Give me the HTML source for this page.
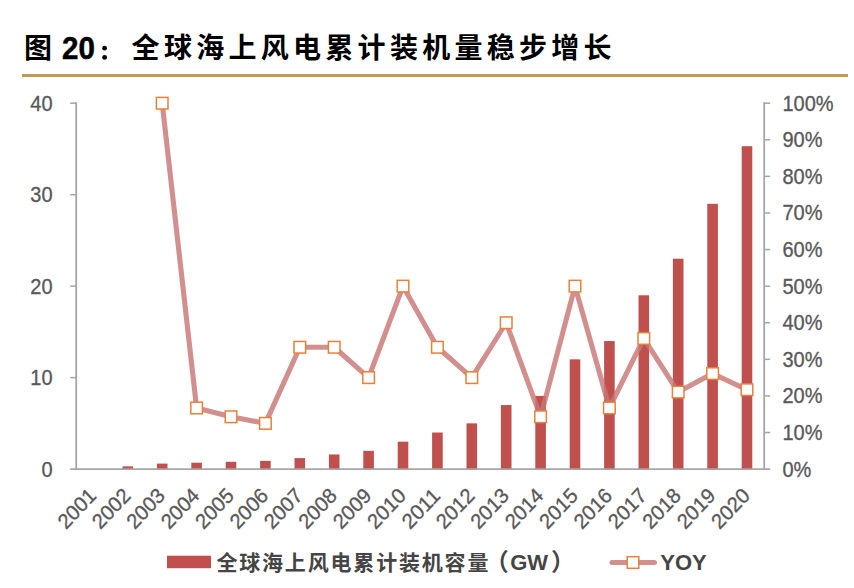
<!DOCTYPE html>
<html lang="zh"><head><meta charset="utf-8"><title>Figure 20</title>
<style>html,body{margin:0;padding:0;background:#fff}body{width:854px;height:588px;overflow:hidden;font-family:"Liberation Sans",sans-serif}svg{display:block}text{font-family:"Liberation Sans","Noto Sans CJK SC",sans-serif}</style></head><body>
<svg width="854" height="588" viewBox="0 0 854 588">
<rect width="854" height="588" fill="#fff"/>
<g id="title">
<text x="24" y="58" font-size="28" font-weight="bold" fill="#000" font-family="'Liberation Sans','Noto Sans CJK SC',sans-serif">图</text>
<text transform="translate(62 58.9) scale(0.985 1.055)" font-size="30" font-weight="bold" fill="#000" stroke="#000" stroke-width="0.5" textLength="33.37" lengthAdjust="spacingAndGlyphs">20</text>
<circle cx="104.6" cy="48.2" r="2.4" fill="#000"/><circle cx="104.6" cy="57.4" r="2.4" fill="#000"/>
<text x="131.6" y="58" font-size="28" font-weight="bold" fill="#000" textLength="480" lengthAdjust="spacing" font-family="'Liberation Sans','Noto Sans CJK SC',sans-serif">全球海上风电累计装机量稳步增长</text>
</g>
<rect x="22" y="74" width="826" height="3" fill="#C29A55"/>
<g fill="#C0504D">
<rect x="122.50" y="466.36" width="10.6" height="2.74"/>
<rect x="156.90" y="463.61" width="10.6" height="5.49"/>
<rect x="191.30" y="462.70" width="10.6" height="6.40"/>
<rect x="225.70" y="461.78" width="10.6" height="7.32"/>
<rect x="260.10" y="460.87" width="10.6" height="8.23"/>
<rect x="294.50" y="458.12" width="10.6" height="10.98"/>
<rect x="328.90" y="454.46" width="10.6" height="14.64"/>
<rect x="363.30" y="450.81" width="10.6" height="18.30"/>
<rect x="397.70" y="441.66" width="10.6" height="27.44"/>
<rect x="432.10" y="432.51" width="10.6" height="36.59"/>
<rect x="466.50" y="423.36" width="10.6" height="45.74"/>
<rect x="500.90" y="405.07" width="10.6" height="64.03"/>
<rect x="535.30" y="395.92" width="10.6" height="73.18"/>
<rect x="569.70" y="359.33" width="10.6" height="109.77"/>
<rect x="604.10" y="341.04" width="10.6" height="128.06"/>
<rect x="638.50" y="295.30" width="10.6" height="173.80"/>
<rect x="672.90" y="258.71" width="10.6" height="210.39"/>
<rect x="707.30" y="203.82" width="10.6" height="265.28"/>
<rect x="741.70" y="146.19" width="10.6" height="322.91"/>
</g>
<g stroke="#A6A6A6" stroke-width="1.8" fill="none">
<line x1="76.2" y1="102.3" x2="76.2" y2="470.0"/>
<line x1="764.2" y1="102.3" x2="764.2" y2="470.0"/>
<line x1="70.2" y1="469.1" x2="770.2" y2="469.1"/>
</g>
<g stroke="#A6A6A6" stroke-width="1.5">
<line x1="70.2" y1="377.62" x2="76.2" y2="377.62"/>
<line x1="70.2" y1="286.15" x2="76.2" y2="286.15"/>
<line x1="70.2" y1="194.67" x2="76.2" y2="194.67"/>
<line x1="70.2" y1="103.20" x2="76.2" y2="103.20"/>
<line x1="764.2" y1="432.51" x2="770.2" y2="432.51"/>
<line x1="764.2" y1="395.92" x2="770.2" y2="395.92"/>
<line x1="764.2" y1="359.33" x2="770.2" y2="359.33"/>
<line x1="764.2" y1="322.74" x2="770.2" y2="322.74"/>
<line x1="764.2" y1="286.15" x2="770.2" y2="286.15"/>
<line x1="764.2" y1="249.56" x2="770.2" y2="249.56"/>
<line x1="764.2" y1="212.97" x2="770.2" y2="212.97"/>
<line x1="764.2" y1="176.38" x2="770.2" y2="176.38"/>
<line x1="764.2" y1="139.79" x2="770.2" y2="139.79"/>
<line x1="764.2" y1="103.20" x2="770.2" y2="103.20"/>
</g>
<g font-size="20" fill="#595959" stroke="#595959" stroke-width="0.3">
<text transform="translate(52.6 476.50) scale(1 1.13)" text-anchor="end" textLength="11.12" lengthAdjust="spacingAndGlyphs">0</text>
<text transform="translate(52.6 385.02) scale(1 1.13)" text-anchor="end" textLength="22.24" lengthAdjust="spacingAndGlyphs">10</text>
<text transform="translate(52.6 293.55) scale(1 1.13)" text-anchor="end" textLength="22.24" lengthAdjust="spacingAndGlyphs">20</text>
<text transform="translate(52.6 202.07) scale(1 1.13)" text-anchor="end" textLength="22.24" lengthAdjust="spacingAndGlyphs">30</text>
<text transform="translate(52.6 110.60) scale(1 1.13)" text-anchor="end" textLength="22.24" lengthAdjust="spacingAndGlyphs">40</text>
<text transform="translate(782.4 476.50) scale(1 1.13)" textLength="28.90" lengthAdjust="spacingAndGlyphs">0%</text>
<text transform="translate(782.4 439.91) scale(1 1.13)" textLength="40.02" lengthAdjust="spacingAndGlyphs">10%</text>
<text transform="translate(782.4 403.32) scale(1 1.13)" textLength="40.02" lengthAdjust="spacingAndGlyphs">20%</text>
<text transform="translate(782.4 366.73) scale(1 1.13)" textLength="40.02" lengthAdjust="spacingAndGlyphs">30%</text>
<text transform="translate(782.4 330.14) scale(1 1.13)" textLength="40.02" lengthAdjust="spacingAndGlyphs">40%</text>
<text transform="translate(782.4 293.55) scale(1 1.13)" textLength="40.02" lengthAdjust="spacingAndGlyphs">50%</text>
<text transform="translate(782.4 256.96) scale(1 1.13)" textLength="40.02" lengthAdjust="spacingAndGlyphs">60%</text>
<text transform="translate(782.4 220.37) scale(1 1.13)" textLength="40.02" lengthAdjust="spacingAndGlyphs">70%</text>
<text transform="translate(782.4 183.78) scale(1 1.13)" textLength="40.02" lengthAdjust="spacingAndGlyphs">80%</text>
<text transform="translate(782.4 147.19) scale(1 1.13)" textLength="40.02" lengthAdjust="spacingAndGlyphs">90%</text>
<text transform="translate(782.4 110.60) scale(1 1.13)" textLength="51.14" lengthAdjust="spacingAndGlyphs">100%</text>
<text transform="translate(97.40 496.90) scale(1 1.06) rotate(-45)" text-anchor="end" textLength="44.47" lengthAdjust="spacingAndGlyphs">2001</text>
<text transform="translate(131.80 496.90) scale(1 1.06) rotate(-45)" text-anchor="end" textLength="44.47" lengthAdjust="spacingAndGlyphs">2002</text>
<text transform="translate(166.20 496.90) scale(1 1.06) rotate(-45)" text-anchor="end" textLength="44.47" lengthAdjust="spacingAndGlyphs">2003</text>
<text transform="translate(200.60 496.90) scale(1 1.06) rotate(-45)" text-anchor="end" textLength="44.47" lengthAdjust="spacingAndGlyphs">2004</text>
<text transform="translate(235.00 496.90) scale(1 1.06) rotate(-45)" text-anchor="end" textLength="44.47" lengthAdjust="spacingAndGlyphs">2005</text>
<text transform="translate(269.40 496.90) scale(1 1.06) rotate(-45)" text-anchor="end" textLength="44.47" lengthAdjust="spacingAndGlyphs">2006</text>
<text transform="translate(303.80 496.90) scale(1 1.06) rotate(-45)" text-anchor="end" textLength="44.47" lengthAdjust="spacingAndGlyphs">2007</text>
<text transform="translate(338.20 496.90) scale(1 1.06) rotate(-45)" text-anchor="end" textLength="44.47" lengthAdjust="spacingAndGlyphs">2008</text>
<text transform="translate(372.60 496.90) scale(1 1.06) rotate(-45)" text-anchor="end" textLength="44.47" lengthAdjust="spacingAndGlyphs">2009</text>
<text transform="translate(407.00 496.90) scale(1 1.06) rotate(-45)" text-anchor="end" textLength="44.47" lengthAdjust="spacingAndGlyphs">2010</text>
<text transform="translate(441.40 496.90) scale(1 1.06) rotate(-45)" text-anchor="end" textLength="44.47" lengthAdjust="spacingAndGlyphs">2011</text>
<text transform="translate(475.80 496.90) scale(1 1.06) rotate(-45)" text-anchor="end" textLength="44.47" lengthAdjust="spacingAndGlyphs">2012</text>
<text transform="translate(510.20 496.90) scale(1 1.06) rotate(-45)" text-anchor="end" textLength="44.47" lengthAdjust="spacingAndGlyphs">2013</text>
<text transform="translate(544.60 496.90) scale(1 1.06) rotate(-45)" text-anchor="end" textLength="44.47" lengthAdjust="spacingAndGlyphs">2014</text>
<text transform="translate(579.00 496.90) scale(1 1.06) rotate(-45)" text-anchor="end" textLength="44.47" lengthAdjust="spacingAndGlyphs">2015</text>
<text transform="translate(613.40 496.90) scale(1 1.06) rotate(-45)" text-anchor="end" textLength="44.47" lengthAdjust="spacingAndGlyphs">2016</text>
<text transform="translate(647.80 496.90) scale(1 1.06) rotate(-45)" text-anchor="end" textLength="44.47" lengthAdjust="spacingAndGlyphs">2017</text>
<text transform="translate(682.20 496.90) scale(1 1.06) rotate(-45)" text-anchor="end" textLength="44.47" lengthAdjust="spacingAndGlyphs">2018</text>
<text transform="translate(716.60 496.90) scale(1 1.06) rotate(-45)" text-anchor="end" textLength="44.47" lengthAdjust="spacingAndGlyphs">2019</text>
<text transform="translate(751.00 496.90) scale(1 1.06) rotate(-45)" text-anchor="end" textLength="44.47" lengthAdjust="spacingAndGlyphs">2020</text>
</g>
<polyline points="162.20,103.20 196.60,407.99 231.00,416.78 265.40,423.36 299.80,347.26 334.20,347.26 368.60,377.62 403.00,286.15 437.40,347.26 471.80,377.62 506.20,322.74 540.60,416.78 575.00,286.15 609.40,407.99 643.80,338.47 678.20,392.08 712.60,373.60 747.00,389.70" fill="none" stroke="rgba(200,118,116,0.82)" stroke-width="5.1" stroke-linejoin="round" stroke-linecap="round"/>
<g fill="#fff" stroke="#E8803A" stroke-width="1.5">
<rect x="156.40" y="97.40" width="11.6" height="11.6"/>
<rect x="190.80" y="402.19" width="11.6" height="11.6"/>
<rect x="225.20" y="410.98" width="11.6" height="11.6"/>
<rect x="259.60" y="417.56" width="11.6" height="11.6"/>
<rect x="294.00" y="341.46" width="11.6" height="11.6"/>
<rect x="328.40" y="341.46" width="11.6" height="11.6"/>
<rect x="362.80" y="371.82" width="11.6" height="11.6"/>
<rect x="397.20" y="280.35" width="11.6" height="11.6"/>
<rect x="431.60" y="341.46" width="11.6" height="11.6"/>
<rect x="466.00" y="371.82" width="11.6" height="11.6"/>
<rect x="500.40" y="316.94" width="11.6" height="11.6"/>
<rect x="534.80" y="410.98" width="11.6" height="11.6"/>
<rect x="569.20" y="280.35" width="11.6" height="11.6"/>
<rect x="603.60" y="402.19" width="11.6" height="11.6"/>
<rect x="638.00" y="332.67" width="11.6" height="11.6"/>
<rect x="672.40" y="386.28" width="11.6" height="11.6"/>
<rect x="706.80" y="367.80" width="11.6" height="11.6"/>
<rect x="741.20" y="383.90" width="11.6" height="11.6"/>
</g>
<rect x="167" y="555.7" width="44" height="12.5" fill="#C0504D"/>
<g id="legend">
<text x="216.4" y="570" font-size="21" font-weight="bold" fill="#454545" textLength="272" lengthAdjust="spacing" font-family="'Liberation Sans','Noto Sans CJK SC',sans-serif">全球海上风电累计装机容量</text>
<text x="484.8" y="570" font-size="24" font-weight="bold" fill="#454545" font-family="'Liberation Sans','Noto Sans CJK SC',sans-serif">（</text>
<text x="510.2" y="570" font-size="22" font-weight="bold" fill="#454545" textLength="37.89" lengthAdjust="spacingAndGlyphs">GW</text>
<text x="551" y="570" font-size="24" font-weight="bold" fill="#454545" font-family="'Liberation Sans','Noto Sans CJK SC',sans-serif">）</text>
<line x1="612" y1="562.5" x2="654.5" y2="562.5" stroke="rgba(200,118,116,0.82)" stroke-width="5" stroke-linecap="round"/>
<rect x="627.2" y="556.7" width="11.6" height="11.6" fill="#fff" stroke="#E8803A" stroke-width="1.5"/>
<text x="660.3" y="570" font-size="22" font-weight="bold" fill="#454545" textLength="46.47" lengthAdjust="spacingAndGlyphs">YOY</text>
</g>
</svg></body></html>
